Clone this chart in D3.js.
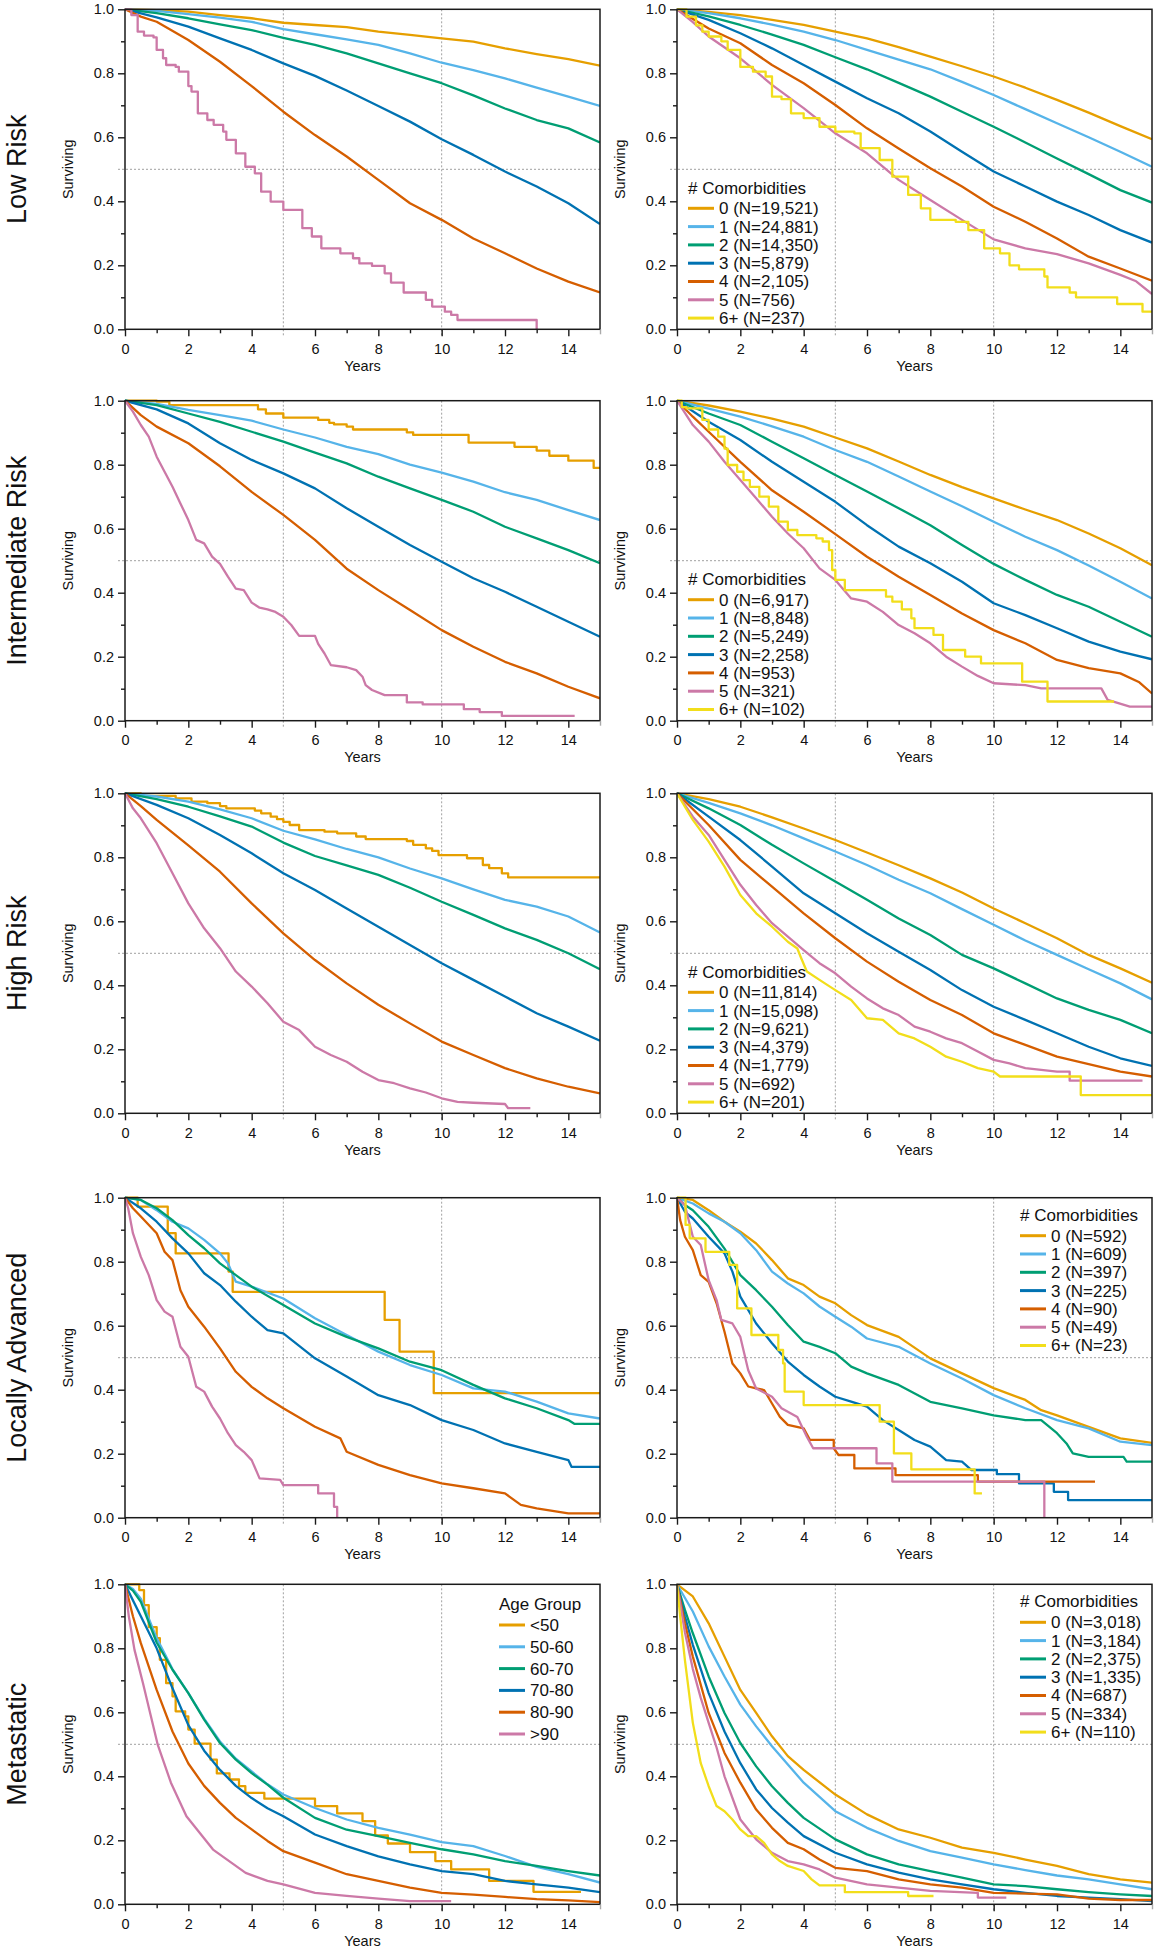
<!DOCTYPE html>
<html><head><meta charset="utf-8">
<script src="https://cdn.jsdelivr.net/npm/d3@7"></script>
<style>body{margin:0;background:#fff}svg{display:block}</style>
</head><body>
<svg id="chart" width="1156" height="1950"></svg>
<script>
// ---------- labels / ticks ----------
const rowLabels = ["Low Risk", "Intermediate Risk", "High Risk", "Locally Advanced", "Metastatic"];
const xMajorTicks = [0, 2, 4, 6, 8, 10, 12, 14];
const xMinorTicks = [1, 3, 7, 9, 11, 13];
const yMajorTicks = [0, 0.2, 0.4, 0.6, 0.8, 1.0];
const yMinorTicks = [0.1, 0.3, 0.7, 0.9];
const gridYears = [5, 10];
const gridSurv = [0.5];
const ageGroups = ["<50", "50-60", "60-70", "70-80", "80-90", ">90"];
const comorbCats = ["0", "1", "2", "3", "4", "5", "6+"];
const nLow = ["19,521", "24,881", "14,350", "5,879", "2,105", "756", "237"];
const nInt = ["6,917", "8,848", "5,249", "2,258", "953", "321", "102"];
const nHigh = ["11,814", "15,098", "9,621", "4,379", "1,779", "692", "201"];
const nLoc = ["592", "609", "397", "225", "90", "49", "23"];
const nMet = ["3,018", "3,184", "2,375", "1,335", "687", "334", "110"];

// ---------- Low Risk, by age ----------
const LR_age0 = [[0,1],[1,0.997],[2,0.993],[3,0.982],[4,0.972],[5,0.958],[6,0.951],[7,0.944],[8,0.93],[9,0.92],[10,0.909],[11,0.899],[12,0.878],[13,0.86],[14,0.844],[15,0.824]];
const LR_age1 = [[0,1],[1,0.995],[2,0.985],[3,0.974],[4,0.961],[5,0.938],[6,0.922],[7,0.906],[8,0.889],[9,0.862],[10,0.833],[11,0.81],[12,0.784],[13,0.755],[14,0.727],[15,0.698]];
const LR_age2 = [[0,1],[1,0.988],[2,0.972],[3,0.953],[4,0.935],[5,0.911],[6,0.889],[7,0.862],[8,0.831],[9,0.8],[10,0.769],[11,0.731],[12,0.69],[13,0.654],[14,0.628],[15,0.584]];
const LR_age3 = [[0,1],[1,0.975],[2,0.946],[3,0.909],[4,0.873],[5,0.831],[6,0.792],[7,0.746],[8,0.698],[9,0.649],[10,0.594],[11,0.545],[12,0.493],[13,0.446],[14,0.394],[15,0.329]];
const LR_age4 = [[0,1],[0.5,0.977],[1,0.961],[2,0.904],[3,0.836],[4,0.76],[5,0.68],[6,0.607],[7,0.54],[8,0.467],[9,0.394],[10,0.342],[11,0.284],[12,0.2375],[13,0.19],[14,0.149],[15,0.115]];
const LR_age5 = [[0,1],[0.2,0.982],[0.4,0.93],[0.6,0.918],[0.9,0.912],[1.0,0.873],[1.2,0.847],[1.3,0.826],[1.6,0.82],[1.7,0.805],[2.0,0.76],[2.1,0.743],[2.3,0.675],[2.6,0.654],[2.8,0.639],[3.1,0.618],[3.2,0.592],[3.5,0.55],[3.8,0.508],[4.1,0.4875],[4.3,0.43],[4.6,0.399],[5.0,0.373],[5.6,0.316],[5.9,0.29],[6.2,0.253],[6.8,0.2375],[7.2,0.222],[7.4,0.206],[7.8,0.198],[8.2,0.175],[8.4,0.146],[8.8,0.115],[9.5,0.092],[9.7,0.071],[10.1,0.055],[10.3,0.045],[10.5,0.029],[13.0,0]];

// ---------- Low Risk, by comorbidities ----------
const LR_c0 = [[0,1],[1,0.992],[2,0.982],[3,0.967],[4,0.951],[5,0.93],[6,0.909],[7,0.882],[8,0.852],[9,0.822],[10,0.79],[11,0.755],[12,0.717],[13,0.677],[14,0.635],[15,0.594]];
const LR_c1 = [[0,1],[1,0.988],[2,0.972],[3,0.952],[4,0.93],[5,0.904],[6,0.873],[7,0.843],[8,0.8125],[9,0.773],[10,0.732],[11,0.688],[12,0.644],[13,0.6],[14,0.555],[15,0.508]];
const LR_c2 = [[0,1],[1,0.978],[2,0.951],[3,0.921],[4,0.889],[5,0.85],[6,0.8125],[7,0.77],[8,0.727],[9,0.68],[10,0.633],[11,0.584],[12,0.534],[13,0.485],[14,0.435],[15,0.396]];
const LR_c3 = [[0,1],[1,0.967],[2,0.925],[3,0.878],[4,0.826],[5,0.774],[6,0.722],[7,0.675],[8,0.618],[9,0.555],[10,0.493],[11,0.446],[12,0.399],[13,0.357],[14,0.31],[15,0.271]];
const LR_c4 = [[0,1],[1,0.94],[2,0.894],[3,0.826],[4,0.769],[5,0.701],[6,0.628],[7,0.565],[8,0.503],[9,0.446],[10,0.383],[11,0.336],[12,0.284],[13,0.227],[14,0.19],[15,0.152]];
const LR_c5 = [[0,1],[0.5,0.96],[1,0.915],[2,0.847],[3,0.764],[4,0.691],[5,0.6125],[6,0.55],[7,0.467],[8,0.404],[9,0.342],[10,0.281],[11,0.253],[12,0.235],[13,0.206],[14,0.17],[14.5,0.15],[15,0.11]];
const LR_c6 = [[0,1],[0.3,0.977],[0.6,0.95],[0.8,0.93],[1.0,0.915],[1.4,0.9],[1.6,0.873],[2.0,0.82],[2.4,0.805],[2.8,0.79],[3.0,0.727],[3.3,0.719],[3.6,0.675],[4.0,0.66],[4.5,0.633],[5.0,0.618],[5.6,0.6125],[5.8,0.566],[6.4,0.529],[6.8,0.477],[7.3,0.42],[7.7,0.378],[8.0,0.342],[8.8,0.336],[9.2,0.31],[9.7,0.253],[10.2,0.2375],[10.5,0.2],[10.8,0.1875],[11.6,0.165],[11.7,0.131],[12.4,0.115],[12.6,0.1],[13.9,0.079],[14.7,0.055],[15,0.055]];

// ---------- Intermediate Risk, by age ----------
const IR_age0 = [[0,1],[1.0,0.997],[1.4,0.986],[4.2,0.973],[4.45,0.96],[5.0,0.947],[6.1,0.94],[6.45,0.931],[6.6,0.926],[7.0,0.919],[7.2,0.91],[8.9,0.901],[9.1,0.893],[10.85,0.869],[12.3,0.856],[13.0,0.844],[13.4,0.828],[14.0,0.8125],[14.8,0.79],[15,0.79]];
const IR_age1 = [[0,1],[1,0.99],[2,0.971],[3,0.955],[4,0.9375],[5,0.91],[6,0.885],[7,0.856],[8,0.833],[9,0.8],[10,0.775],[11,0.747],[12,0.714],[13,0.69],[14,0.658],[15,0.627]];
const IR_age2 = [[0,1],[1,0.986],[2,0.96],[3,0.934],[4,0.903],[5,0.872],[6,0.8375],[7,0.804],[8,0.7625],[9,0.726],[10,0.69],[11,0.653],[12,0.606],[13,0.57],[14,0.533],[15,0.492]];
const IR_age3 = [[0,1],[1,0.973],[2,0.929],[3,0.867],[4,0.815],[5,0.773],[6,0.726],[7,0.664],[8,0.606],[9,0.549],[10,0.497],[11,0.445],[12,0.403],[13,0.356],[14,0.309],[15,0.2625]];
const IR_age4 = [[0,1],[0.5,0.955],[1,0.919],[2,0.867],[3,0.795],[4,0.715],[5,0.643],[6,0.565],[7,0.475],[8,0.408],[9,0.346],[10,0.283],[11,0.231],[12,0.184],[13,0.148],[14,0.106],[15,0.07]];
const IR_age5 = [[0,1],[0.25,0.966],[0.5,0.924],[0.75,0.8875],[1.0,0.825],[1.25,0.778],[1.5,0.731],[1.75,0.679],[2.0,0.627],[2.25,0.565],[2.5,0.554],[2.75,0.5125],[3.0,0.49],[3.25,0.45],[3.5,0.413],[3.75,0.408],[4.0,0.369],[4.25,0.353],[4.5,0.348],[4.75,0.34],[5.0,0.325],[5.25,0.299],[5.5,0.265],[6.0,0.265],[6.1,0.24],[6.3,0.21],[6.5,0.174],[7.0,0.167],[7.3,0.158],[7.5,0.1375],[7.6,0.111],[7.8,0.096],[8.2,0.08],[8.9,0.08],[8.9,0.057],[9.4,0.057],[9.4,0.051],[10.7,0.051],[10.7,0.036],[11.2,0.036],[11.2,0.027],[11.9,0.027],[11.9,0.015],[14.2,0.015]];

// ---------- Intermediate Risk, by comorbidities ----------
const IR_c0 = [[0,1],[1,0.985],[2,0.966],[3,0.944],[4,0.919],[5,0.885],[6,0.851],[7,0.81],[8,0.768],[9,0.73],[10,0.695],[11,0.66],[12,0.627],[13,0.585],[14,0.539],[15,0.486]];
const IR_c1 = [[0,1],[1,0.975],[2,0.95],[3,0.92],[4,0.8875],[5,0.846],[6,0.809],[7,0.763],[8,0.716],[9,0.67],[10,0.622],[11,0.575],[12,0.533],[13,0.485],[14,0.434],[15,0.382]];
const IR_c2 = [[0,1],[1,0.96],[2,0.924],[3,0.872],[4,0.82],[5,0.768],[6,0.716],[7,0.664],[8,0.611],[9,0.549],[10,0.49],[11,0.44],[12,0.393],[13,0.356],[14,0.309],[15,0.2625]];
const IR_c3 = [[0,1],[1,0.934],[2,0.877],[3,0.809],[4,0.747],[5,0.684],[6,0.611],[7,0.544],[8,0.492],[9,0.434],[10,0.367],[11,0.33],[12,0.289],[13,0.247],[14,0.216],[15,0.192]];
const IR_c4 = [[0,1],[0.5,0.95],[1,0.903],[2,0.809],[3,0.72],[4,0.653],[5,0.583],[6,0.5125],[7,0.45],[8,0.393],[9,0.335],[10,0.283],[11,0.242],[12,0.19],[13,0.164],[14,0.148],[14.6,0.12],[15,0.085]];
const IR_c5 = [[0,1],[0.5,0.924],[1,0.872],[1.5,0.809],[2,0.752],[2.5,0.695],[3,0.6375],[3.5,0.585],[4,0.539],[4.5,0.476],[5,0.44],[5.5,0.382],[6,0.372],[6.5,0.34],[7,0.299],[7.5,0.273],[8,0.242],[8.5,0.2],[9,0.169],[9.5,0.14],[10,0.117],[11,0.111],[11.5,0.101],[13.4,0.101],[13.6,0.065],[14.3,0.044],[15,0.044]];
const IR_c6 = [[0,1],[0.15,0.98],[0.3,0.976],[0.8,0.94],[1.0,0.91],[1.3,0.8875],[1.5,0.85],[1.6,0.799],[1.9,0.778],[2.1,0.752],[2.3,0.731],[2.6,0.7],[2.9,0.669],[3.2,0.622],[3.5,0.596],[3.8,0.58],[4.4,0.57],[4.6,0.56],[4.8,0.533],[4.9,0.471],[5.0,0.44],[5.3,0.408],[6.6,0.3875],[6.8,0.372],[7.1,0.348],[7.4,0.32],[7.5,0.289],[8.1,0.268],[8.4,0.221],[9.1,0.2],[9.6,0.179],[10.9,0.122],[11.7,0.06],[13.8,0.06]];

// ---------- High Risk, by age ----------
const HR_age0 = [[0,1],[0.5,0.992],[1.6,0.984],[2.1,0.974],[2.6,0.969],[3.0,0.96],[3.2,0.953],[4.1,0.946],[4.3,0.9375],[4.6,0.927],[4.8,0.919],[5.0,0.911],[5.2,0.901],[5.5,0.885],[6.3,0.88],[6.7,0.875],[7.3,0.865],[7.6,0.857],[8.9,0.851],[9.1,0.839],[9.5,0.828],[9.7,0.82],[9.9,0.807],[10.8,0.797],[11.3,0.776],[11.5,0.766],[11.9,0.75],[12.1,0.737],[15,0.737]];
const HR_age1 = [[0,1],[1,0.99],[2,0.974],[3,0.95],[4,0.922],[5,0.883],[6,0.856],[7,0.826],[8,0.8],[9,0.765],[10,0.734],[11,0.7],[12,0.667],[13,0.646],[14,0.615],[15,0.565]];
const HR_age2 = [[0,1],[1,0.982],[2,0.958],[3,0.928],[4,0.896],[5,0.846],[6,0.804],[7,0.775],[8,0.745],[9,0.705],[10,0.661],[11,0.62],[12,0.578],[13,0.542],[14,0.5],[15,0.45]];
const HR_age3 = [[0,1],[1,0.964],[2,0.922],[3,0.87],[4,0.8125],[5,0.75],[6,0.698],[7,0.64],[8,0.583],[9,0.526],[10,0.469],[11,0.417],[12,0.365],[13,0.3125],[14,0.271],[15,0.227]];
const HR_age4 = [[0,1],[0.5,0.96],[1,0.917],[2,0.837],[3,0.755],[4,0.656],[5,0.5625],[6,0.479],[7,0.406],[8,0.339],[9,0.281],[10,0.224],[11,0.182],[12,0.141],[13,0.109],[14,0.083],[15,0.0625]];
const HR_age5 = [[0,1],[0.25,0.953],[0.5,0.922],[1,0.844],[1.5,0.75],[2,0.656],[2.5,0.578],[3,0.516],[3.5,0.443],[4,0.396],[4.5,0.344],[5,0.286],[5.5,0.26],[6,0.208],[6.5,0.182],[7,0.161],[7.5,0.13],[8,0.104],[8.5,0.094],[9,0.078],[9.5,0.065],[10,0.047],[10.5,0.036],[11,0.033],[12,0.029],[12.1,0.016],[12.8,0.016]];

// ---------- High Risk, by comorbidities ----------
const HR_c0 = [[0,1],[1,0.982],[2,0.958],[3,0.925],[4,0.89],[5,0.854],[6,0.815],[7,0.775],[8,0.734],[9,0.69],[10,0.64],[11,0.594],[12,0.547],[13,0.495],[14,0.453],[15,0.408]];
const HR_c1 = [[0,1],[1,0.97],[2,0.9375],[3,0.9],[4,0.859],[5,0.818],[6,0.776],[7,0.73],[8,0.6875],[9,0.638],[10,0.589],[11,0.54],[12,0.495],[13,0.45],[14,0.406],[15,0.356]];
const HR_c2 = [[0,1],[1,0.953],[2,0.901],[3,0.839],[4,0.781],[5,0.724],[6,0.667],[7,0.609],[8,0.557],[9,0.495],[10,0.453],[11,0.406],[12,0.359],[13,0.323],[14,0.292],[15,0.25]];
const HR_c3 = [[0,1],[1,0.927],[2,0.854],[3,0.771],[4,0.6875],[5,0.625],[6,0.5625],[7,0.505],[8,0.448],[9,0.385],[10,0.333],[11,0.292],[12,0.25],[13,0.208],[14,0.172],[15,0.148]];
const HR_c4 = [[0,1],[1,0.901],[2,0.792],[3,0.708],[4,0.625],[5,0.547],[6,0.474],[7,0.411],[8,0.354],[9,0.307],[10,0.25],[11,0.214],[12,0.177],[13,0.154],[14,0.13],[15,0.115]];
const HR_c5 = [[0,1],[0.5,0.927],[1,0.87],[1.5,0.792],[2,0.714],[2.5,0.651],[3,0.594],[3.5,0.552],[4,0.51],[4.5,0.469],[5,0.4375],[5.5,0.396],[6,0.359],[6.5,0.328],[7,0.307],[7.5,0.271],[8,0.255],[8.5,0.234],[9,0.219],[9.5,0.193],[10,0.167],[10.5,0.156],[11,0.141],[12,0.13],[12.4,0.13],[12.4,0.102],[14.7,0.102]];
const HR_c6 = [[0,1],[0.25,0.958],[0.5,0.917],[1,0.849],[1.5,0.771],[2,0.682],[2.5,0.625],[3,0.583],[3.5,0.536],[3.8,0.515],[3.9,0.49],[4.1,0.443],[4.5,0.417],[5,0.385],[5.5,0.354],[6,0.297],[6.5,0.292],[7,0.25],[7.5,0.234],[8,0.208],[8.5,0.177],[9,0.161],[9.5,0.141],[10,0.13],[10.2,0.115],[12.75,0.115],[12.75,0.057],[15,0.057]];

// ---------- Locally Advanced, by age ----------
const LA_age0 = [[0,1],[0.4,0.972],[1.35,0.889],[1.6,0.826],[3.27,0.769],[3.4,0.706],[8.2,0.618],[8.67,0.519],[9.75,0.389],[15,0.389]];
const LA_age1 = [[0,1],[0.5,0.993],[1,0.961],[1.5,0.925],[2,0.904],[2.5,0.868],[3,0.826],[3.25,0.795],[3.5,0.7375],[4,0.722],[5,0.685],[6,0.623],[7,0.571],[8,0.519],[9,0.477],[10,0.446],[11,0.404],[12,0.394],[13,0.3625],[14,0.326],[15,0.31]];
const LA_age2 = [[0,1],[0.5,0.993],[1,0.967],[1.5,0.93],[2,0.883],[2.5,0.842],[3,0.795],[3.5,0.758],[4,0.722],[5,0.665],[6,0.607],[7,0.565],[8,0.529],[9,0.4875],[10,0.461],[11,0.415],[12,0.373],[13,0.342],[14,0.305],[14.2,0.293],[15,0.293]];
const LA_age3 = [[0,1],[0.5,0.967],[1,0.925],[1.5,0.873],[2,0.826],[2.5,0.764],[3,0.727],[3.5,0.675],[4,0.628],[4.5,0.586],[5,0.576],[6,0.498],[7,0.441],[8,0.383],[9,0.352],[10,0.305],[11,0.274],[12,0.232],[13,0.206],[14,0.18],[14.1,0.159],[15,0.159]];
const LA_age4 = [[0,1],[0.25,0.967],[0.5,0.941],[1,0.889],[1.25,0.831],[1.5,0.805],[1.75,0.711],[2,0.659],[2.5,0.597],[3,0.529],[3.5,0.456],[4,0.409],[4.5,0.373],[5,0.342],[6,0.284],[6.8,0.248],[7,0.206],[8,0.165],[9,0.133],[10,0.107],[11,0.092],[12,0.076],[12.5,0.04],[13,0.029],[14,0.0135],[15,0.0135]];
const LA_age5 = [[0,1],[0.1,0.967],[0.25,0.889],[0.5,0.815],[0.75,0.758],[1.0,0.68],[1.25,0.644],[1.5,0.628],[1.75,0.534],[2.0,0.503],[2.25,0.409],[2.5,0.394],[2.75,0.347],[3.0,0.31],[3.25,0.264],[3.5,0.227],[3.75,0.206],[4.0,0.18],[4.25,0.123],[4.9,0.118],[5.0,0.102],[6.1,0.102],[6.1,0.076],[6.6,0.076],[6.6,0.034],[6.7,0.034],[6.7,0]];

// ---------- Locally Advanced, by comorbidities ----------
const LA_c0 = [[0,1],[0.5,0.993],[1,0.961],[1.5,0.925],[2,0.894],[2.5,0.857],[3,0.805],[3.5,0.748],[4,0.727],[4.5,0.691],[5,0.67],[5.5,0.633],[6,0.602],[7,0.565],[8,0.498],[9,0.451],[10,0.405],[11,0.368],[11.5,0.336],[12,0.32],[13,0.284],[14,0.248],[15,0.234]];
const LA_c1 = [[0,1],[0.5,0.982],[1,0.951],[1.5,0.925],[2,0.889],[2.5,0.836],[3,0.769],[3.5,0.732],[4,0.701],[4.5,0.66],[5,0.628],[5.5,0.597],[6,0.56],[7,0.534],[8,0.482],[9,0.435],[10,0.383],[11,0.342],[12,0.305],[13,0.279],[14,0.2375],[15,0.227]];
const LA_c2 = [[0,1],[0.25,0.977],[0.5,0.961],[1,0.909],[1.5,0.841],[2,0.758],[2.5,0.711],[3,0.659],[3.5,0.602],[4,0.55],[4.5,0.534],[5,0.514],[5.5,0.472],[6,0.451],[7,0.415],[8,0.362],[9,0.342],[10,0.32],[11,0.305],[11.5,0.305],[12,0.264],[12.3,0.232],[12.5,0.201],[13,0.19],[14.1,0.19],[14.2,0.175],[15,0.175]];
const LA_c3 = [[0,1],[0.25,0.956],[0.5,0.935],[1,0.878],[1.5,0.826],[1.75,0.769],[2,0.691],[2.5,0.607],[3,0.545],[3.5,0.488],[4,0.446],[4.5,0.41],[5,0.378],[5.5,0.3625],[6,0.347],[6.5,0.305],[7,0.274],[7.5,0.243],[8,0.222],[8.5,0.18],[9,0.175],[9.3,0.149],[10.1,0.149],[10.1,0.136],[10.8,0.136],[10.8,0.107],[11.9,0.107],[11.9,0.081],[12.35,0.081],[12.35,0.055],[15,0.055]];
const LA_c4 = [[0,1],[0.1,0.93],[0.25,0.878],[0.5,0.836],[0.75,0.758],[1.0,0.737],[1.25,0.67],[1.5,0.581],[1.75,0.482],[2.0,0.451],[2.25,0.41],[2.5,0.404],[2.75,0.399],[3.0,0.357],[3.25,0.315],[3.5,0.29],[4.0,0.279],[4.2,0.243],[4.95,0.243],[4.95,0.217],[5.1,0.196],[5.6,0.196],[5.6,0.154],[6.9,0.154],[6.9,0.133],[9.5,0.133],[9.5,0.113],[13.2,0.113]];
const LA_c5 = [[0,1],[0.25,0.977],[0.5,0.878],[0.75,0.852],[1.0,0.742],[1.25,0.68],[1.4,0.618],[1.75,0.607],[2.0,0.565],[2.25,0.461],[2.5,0.404],[3.0,0.378],[3.3,0.342],[3.8,0.315],[4.1,0.253],[4.3,0.217],[6.3,0.217],[6.3,0.17],[6.8,0.17],[6.8,0.113],[11.6,0.113],[11.6,0]];
const LA_c6 = [[0,1],[0.27,0.915],[0.4,0.873],[0.9,0.831],[1.65,0.79],[1.9,0.654],[2.35,0.571],[3.2,0.524],[3.35,0.482],[3.4,0.394],[4.0,0.352],[6.4,0.3],[6.85,0.201],[7.4,0.151],[9.4,0.076],[9.63,0.076]];

// ---------- Metastatic, by age ----------
const MET_age0 = [[0,1],[0.45,0.982],[0.6,0.935],[0.75,0.866],[1.0,0.832],[1.1,0.764],[1.3,0.691],[1.5,0.65],[1.6,0.603],[1.9,0.587],[2.0,0.546],[2.2,0.502],[2.7,0.452],[2.9,0.409],[3.3,0.39],[3.6,0.369],[3.8,0.348],[4.4,0.33],[6.0,0.307],[6.7,0.284],[7.5,0.26],[7.9,0.215],[8.3,0.19],[9.0,0.163],[9.8,0.135],[10.3,0.109],[11.5,0.073],[12.9,0.039],[14.4,0.039]];
const MET_age1 = [[0,1],[0.25,0.985],[0.5,0.955],[1,0.832],[1.5,0.735],[2,0.66],[2.5,0.58],[3,0.509],[3.5,0.455],[4,0.415],[4.5,0.375],[5,0.343],[6,0.301],[7,0.265],[8,0.239],[9,0.218],[10,0.194],[11,0.182],[12,0.151],[13,0.117],[14,0.094],[15,0.068]];
const MET_age2 = [[0,1],[0.25,0.98],[0.5,0.945],[1,0.818],[1.5,0.733],[2,0.66],[2.5,0.577],[3,0.504],[3.5,0.452],[4,0.41],[4.5,0.374],[5,0.333],[6,0.27],[7,0.233],[8,0.213],[9,0.192],[10,0.172],[11,0.156],[12,0.135],[13,0.12],[14,0.104],[15,0.09]];
const MET_age3 = [[0,1],[0.5,0.9],[1,0.8],[1.5,0.675],[2,0.56],[2.5,0.48],[3,0.42],[3.5,0.37],[4,0.332],[4.5,0.3],[5,0.275],[6,0.218],[7,0.182],[8,0.15],[9,0.125],[10,0.104],[11,0.094],[12,0.073],[13,0.062],[14,0.052],[15,0.038]];
const MET_age4 = [[0,1],[0.25,0.9],[0.5,0.816],[1,0.67],[1.5,0.54],[2,0.44],[2.5,0.37],[3,0.317],[3.5,0.27],[4,0.234],[4.5,0.198],[5,0.166],[6,0.13],[7,0.094],[8,0.073],[9,0.052],[10,0.036],[11,0.03],[12,0.023],[13,0.016],[14,0.012],[15,0.007]];
const MET_age5 = [[0,1],[0.12,0.9],[0.3,0.795],[0.57,0.69],[0.82,0.587],[1.03,0.5],[1.45,0.38],[1.94,0.275],[2.78,0.171],[3.81,0.098],[4.5,0.073],[5,0.062],[6,0.036],[7,0.026],[8,0.018],[9,0.01],[10.3,0.01]];

// ---------- Metastatic, by comorbidities ----------
const MET_c0 = [[0,1],[0.5,0.962],[1,0.878],[1.5,0.774],[2,0.67],[2.5,0.598],[3,0.525],[3.5,0.463],[4,0.42],[5,0.343],[6,0.281],[7,0.234],[8,0.208],[9,0.177],[10,0.161],[11,0.14],[12,0.12],[13,0.094],[14,0.078],[15,0.068]];
const MET_c1 = [[0,1],[0.5,0.915],[1,0.806],[1.5,0.712],[2,0.624],[2.5,0.556],[3,0.494],[3.5,0.437],[4,0.38],[5,0.291],[6,0.239],[7,0.198],[8,0.166],[9,0.146],[10,0.125],[11,0.107],[12,0.09],[13,0.078],[14,0.062],[15,0.047]];
const MET_c2 = [[0,1],[0.25,0.92],[0.5,0.847],[1,0.712],[1.5,0.598],[2,0.504],[2.5,0.431],[3,0.369],[3.5,0.317],[4,0.27],[5,0.203],[6,0.156],[7,0.125],[8,0.104],[9,0.083],[10,0.062],[11,0.057],[12,0.047],[13,0.038],[14,0.031],[15,0.026]];
const MET_c3 = [[0,1],[0.25,0.899],[0.5,0.811],[1,0.66],[1.5,0.54],[2,0.441],[2.5,0.359],[3,0.301],[3.5,0.255],[4,0.213],[5,0.161],[6,0.125],[7,0.099],[8,0.078],[9,0.062],[10,0.047],[11,0.036],[12,0.026],[13,0.021],[14,0.016],[15,0.01]];
const MET_c4 = [[0,1],[0.25,0.878],[0.5,0.774],[1,0.598],[1.5,0.473],[2,0.38],[2.5,0.296],[3,0.239],[3.5,0.192],[4,0.172],[4.5,0.14],[5,0.114],[6,0.104],[7,0.078],[8,0.062],[9,0.052],[10,0.036],[12,0.031],[13,0.018],[14,0.0135],[15,0.0135]];
const MET_c5 = [[0,1],[0.25,0.85],[0.5,0.735],[0.75,0.645],[1,0.567],[1.25,0.49],[1.5,0.4],[2,0.265],[2.5,0.203],[3,0.161],[3.5,0.135],[4,0.125],[4.5,0.109],[5,0.083],[6,0.062],[7,0.052],[8,0.042],[9.5,0.036],[9.5,0.021],[10.4,0.021]];
const MET_c6 = [[0,1],[0.1,0.9],[0.25,0.763],[0.5,0.567],[0.75,0.441],[1,0.369],[1.25,0.307],[1.5,0.291],[1.75,0.265],[2,0.234],[2.25,0.213],[2.5,0.213],[2.75,0.192],[3,0.156],[3.25,0.135],[3.5,0.12],[4,0.104],[4.25,0.078],[4.5,0.059],[5.3,0.059],[5.3,0.038],[7.3,0.038],[7.3,0.026],[8.1,0.026]];

// ---------- styling / layout ----------
const palette = ["#E69F00", "#56B4E9", "#009E73", "#0072B2", "#D55E00", "#CC79A7", "#F2DE1B"];
const FONT = "'Liberation Sans', Arial, Helvetica, sans-serif";
const colX0 = [125, 677];
const rowY0 = [9.3, 400.7, 793.3, 1197.7, 1584.3];
const plotW = 475, plotH = 320;

const panels = [
  { left: [LR_age0, LR_age1, LR_age2, LR_age3, LR_age4, LR_age5], leftStep: [5],
    right: [LR_c0, LR_c1, LR_c2, LR_c3, LR_c4, LR_c5, LR_c6], rightStep: [6], n: nLow, legendPos: "bottom" },
  { left: [IR_age0, IR_age1, IR_age2, IR_age3, IR_age4, IR_age5], leftStep: [0],
    right: [IR_c0, IR_c1, IR_c2, IR_c3, IR_c4, IR_c5, IR_c6], rightStep: [6], n: nInt, legendPos: "bottom" },
  { left: [HR_age0, HR_age1, HR_age2, HR_age3, HR_age4, HR_age5], leftStep: [0],
    right: [HR_c0, HR_c1, HR_c2, HR_c3, HR_c4, HR_c5, HR_c6], rightStep: [], n: nHigh, legendPos: "bottom" },
  { left: [LA_age0, LA_age1, LA_age2, LA_age3, LA_age4, LA_age5], leftStep: [0],
    right: [LA_c0, LA_c1, LA_c2, LA_c3, LA_c4, LA_c5, LA_c6], rightStep: [6], n: nLoc, legendPos: "top" },
  { left: [MET_age0, MET_age1, MET_age2, MET_age3, MET_age4, MET_age5], leftStep: [0],
    right: [MET_c0, MET_c1, MET_c2, MET_c3, MET_c4, MET_c5, MET_c6], rightStep: [], n: nMet, legendPos: "top", ageLegend: true }
];

const svg = d3.select("#chart");
let clipCount = 0;

function drawPanel(x0, y0, series, stepIdx) {
  const xs = d3.scaleLinear().domain([0, 15]).range([x0, x0 + plotW]);
  const ys = d3.scaleLinear().domain([0, 1]).range([y0 + plotH, y0]);
  const g = svg.append("g");
  const cid = "clip" + (clipCount++);
  g.append("clipPath").attr("id", cid).append("rect")
    .attr("x", x0).attr("y", y0 - 3).attr("width", plotW).attr("height", plotH + 3);

  // grid
  g.selectAll(".vg").data(gridYears).join("line")
    .attr("x1", d => xs(d)).attr("x2", d => xs(d))
    .attr("y1", y0).attr("y2", y0 + plotH + 7)
    .attr("stroke", "#a0a0a0").attr("stroke-width", 1).attr("stroke-dasharray", "2,2");
  g.selectAll(".hg").data(gridSurv).join("line")
    .attr("x1", x0 - 7).attr("x2", x0 + plotW)
    .attr("y1", d => ys(d)).attr("y2", d => ys(d))
    .attr("stroke", "#a0a0a0").attr("stroke-width", 1).attr("stroke-dasharray", "2,2");

  // series
  const lg = g.append("g").attr("clip-path", `url(#${cid})`);
  series.forEach((s, i) => {
    const line = d3.line().x(d => xs(d[0])).y(d => ys(d[1]))
      .curve(stepIdx.includes(i) ? d3.curveStepAfter : d3.curveLinear);
    lg.append("path").attr("d", line(s)).attr("fill", "none")
      .attr("stroke", palette[i]).attr("stroke-width", 2.3)
      .attr("stroke-linejoin", "round");
  });

  // frame
  g.append("rect").attr("x", x0).attr("y", y0).attr("width", plotW).attr("height", plotH)
    .attr("fill", "none").attr("stroke", "#1a1a1a").attr("stroke-width", 1.5);

  // x axis
  const gx = g.append("g").attr("transform", `translate(0,${y0 + plotH})`)
    .call(d3.axisBottom(xs).tickValues(xMajorTicks).tickSize(7).tickPadding(7).tickFormat(d3.format("d")));
  const gxm = g.append("g").attr("transform", `translate(0,${y0 + plotH})`)
    .call(d3.axisBottom(xs).tickValues(xMinorTicks).tickSize(4).tickFormat(""));
  const gx15 = g.append("g").attr("transform", `translate(0,${y0 + plotH})`)
    .call(d3.axisBottom(xs).tickValues([15]).tickSize(5).tickFormat(""));
  // y axis
  const gy = g.append("g").attr("transform", `translate(${x0},0)`)
    .call(d3.axisLeft(ys).tickValues(yMajorTicks).tickSize(7).tickPadding(4).tickFormat(d3.format(".1f")));
  const gym = g.append("g").attr("transform", `translate(${x0},0)`)
    .call(d3.axisLeft(ys).tickValues(yMinorTicks).tickSize(4).tickFormat(""));
  [gx, gxm, gx15, gy, gym].forEach(a => {
    a.select(".domain").remove();
    a.attr("color", "#1a1a1a").attr("font-family", FONT).attr("font-size", 14.5);
    a.selectAll("line").attr("stroke-width", 1.4);
  });
  gx15.selectAll("line").attr("stroke", "#aaa");
  gx.selectAll("text").attr("fill", "#111");
  gy.selectAll("text").attr("fill", "#111");

  // axis titles
  g.append("text").attr("x", x0 + plotW / 2).attr("y", y0 + plotH + 41.5)
    .attr("text-anchor", "middle").attr("font-family", FONT).attr("font-size", 14.5)
    .attr("fill", "#111").text("Years");
  g.append("text").attr("transform", `translate(${x0 - 52},${y0 + plotH / 2}) rotate(-90)`)
    .attr("text-anchor", "middle").attr("font-family", FONT).attr("font-size", 14.5)
    .attr("fill", "#111").text("Surviving");
  return g;
}

function drawLegend(g, x, yTitle, yItem0, dy, title, labels, colors) {
  g.append("text").attr("x", x).attr("y", yTitle).attr("dy", "0.35em")
    .attr("font-family", FONT).attr("font-size", 17).attr("fill", "#111").text(title);
  labels.forEach((lab, i) => {
    const yy = yItem0 + i * dy;
    g.append("line").attr("x1", x).attr("x2", x + 26).attr("y1", yy).attr("y2", yy)
      .attr("stroke", colors[i]).attr("stroke-width", 3);
    g.append("text").attr("x", x + 31).attr("y", yy).attr("dy", "0.35em")
      .attr("font-family", FONT).attr("font-size", 17).attr("fill", "#111").text(lab);
  });
}

panels.forEach((p, ri) => {
  const y0 = rowY0[ri];
  // row label
  svg.append("text").attr("transform", `translate(26,${y0 + plotH / 2}) rotate(-90)`)
    .attr("text-anchor", "middle").attr("font-family", FONT)
    .attr("font-size", 27).attr("fill", "#111").text(rowLabels[ri]);

  const gl = drawPanel(colX0[0], y0, p.left, p.leftStep);
  if (p.ageLegend) {
    drawLegend(gl, colX0[0] + 374, y0 + 19.7, y0 + 40.7, 21.8, "Age Group", ageGroups, palette);
  }
  const gr = drawPanel(colX0[1], y0, p.right, p.rightStep);
  const labs = comorbCats.map((c, i) => `${c} (N=${p.n[i]})`);
  if (p.legendPos === "bottom") {
    drawLegend(gr, colX0[1] + 11, y0 + 178.5, y0 + 199, 18.3, "# Comorbidities", labs, palette);
  } else {
    drawLegend(gr, colX0[1] + 343, y0 + 17, y0 + 38, 18.3, "# Comorbidities", labs, palette);
  }
});
</script>
</body></html>
